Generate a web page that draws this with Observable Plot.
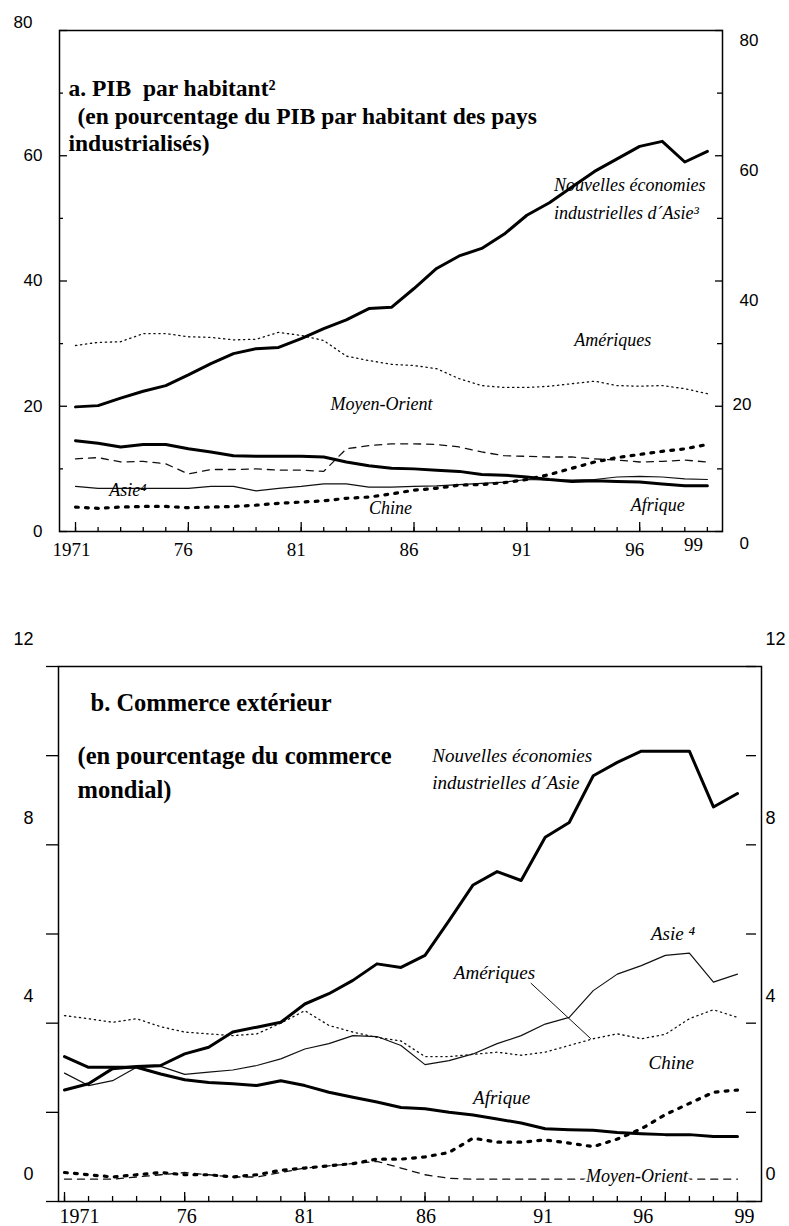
<!DOCTYPE html>
<html><head><meta charset="utf-8">
<script src="https://cdn.jsdelivr.net/npm/d3@7"></script>
<script src="https://cdn.jsdelivr.net/npm/@observablehq/plot@0.6"></script>
<style>
body{margin:0;background:#fff;width:789px;height:1226px;position:relative;overflow:hidden}
#a{position:absolute;left:0;top:0}
#b{position:absolute;left:0;top:620px}
svg text{white-space:pre}
</style></head><body><div id="a"></div><div id="b"></div>
<script>
// ---------- DATA ----------
const years = d3.range(1971, 2000);

// Panel a: GDP per capita (% of industrial countries' GDP per capita)
const nieA   = [19.9,20.1,21.3,22.4,23.3,25.0,26.8,28.4,29.2,29.4,30.8,32.4,33.8,35.6,35.8,38.8,42.0,44.0,45.2,47.5,50.5,52.5,55.0,57.5,59.5,61.5,62.3,59.0,60.7];
const ameA   = [29.7,30.2,30.3,31.6,31.6,31.1,31.0,30.6,30.7,31.8,31.3,30.5,28.0,27.3,26.7,26.5,26.0,24.4,23.3,23.0,23.0,23.2,23.6,24.0,23.3,23.2,23.3,22.8,22.0];
const meA    = [11.6,11.8,11.1,11.2,10.8,9.2,9.9,9.9,10.0,9.8,9.8,9.6,13.2,13.7,14.0,14.0,13.9,13.5,12.7,12.1,12.0,11.9,11.9,11.6,11.4,11.1,11.2,11.4,11.1];
const afrA   = [14.5,14.1,13.5,13.9,13.9,13.2,12.7,12.1,12.0,12.0,12.0,11.9,11.1,10.5,10.1,10.0,9.8,9.6,9.1,9.0,8.7,8.3,8.0,8.1,8.0,7.9,7.6,7.3,7.3];
const asiaA  = [7.2,6.9,6.9,6.9,6.9,6.9,7.2,7.2,6.5,6.9,7.2,7.6,7.6,7.1,7.1,7.2,7.3,7.5,7.7,7.9,8.3,8.2,8.2,8.3,8.7,8.8,8.7,8.4,8.3];
const chinaA = [3.9,3.7,3.9,4.0,4.0,3.8,3.9,4.0,4.2,4.5,4.7,4.9,5.3,5.5,6.0,6.6,6.9,7.4,7.5,7.8,8.3,9.1,10.1,11.1,11.8,12.3,12.8,13.2,13.9];

// Panel b: foreign trade (% of world trade)
const nieB   = [2.5,2.64,2.98,3.03,3.05,3.31,3.46,3.8,3.91,4.02,4.43,4.66,4.96,5.33,5.25,5.52,6.3,7.1,7.4,7.2,8.17,8.5,9.55,9.85,10.1,10.1,10.1,8.85,9.15];
const asiaB  = [2.88,2.6,2.71,3.01,3.03,2.85,2.9,2.95,3.05,3.2,3.42,3.54,3.72,3.7,3.5,3.07,3.16,3.31,3.54,3.72,3.98,4.13,4.73,5.1,5.29,5.52,5.57,4.92,5.1];
const ameB   = [4.17,4.1,4.02,4.1,3.92,3.8,3.76,3.72,3.76,4.0,4.28,3.95,3.8,3.68,3.6,3.25,3.25,3.3,3.35,3.28,3.35,3.5,3.65,3.76,3.65,3.75,4.1,4.3,4.13];
const afrB   = [3.25,3.01,3.01,3.01,2.86,2.73,2.67,2.64,2.6,2.71,2.6,2.45,2.34,2.23,2.11,2.08,2.0,1.94,1.85,1.76,1.63,1.61,1.6,1.55,1.52,1.5,1.5,1.46,1.46];
const chinaB = [0.65,0.6,0.55,0.6,0.65,0.6,0.6,0.55,0.6,0.7,0.75,0.8,0.85,0.95,0.95,1.0,1.1,1.42,1.33,1.33,1.38,1.31,1.23,1.4,1.63,1.95,2.2,2.45,2.5];
const meB    = [0.5,0.5,0.5,0.55,0.6,0.65,0.6,0.55,0.55,0.65,0.75,0.8,0.85,0.9,0.75,0.6,0.52,0.5,0.5,0.5,0.5,0.5,0.5,0.5,0.5,0.5,0.5,0.5,0.5];

// Tick values and labels
const xMajor = [1971,1976,1981,1986,1991,1996];
const xLabelYears = [1971,1976,1981,1986,1991,1996,1999];
const xLabelsA = ["1971","76","81","86","91","96","99"];
const xLabelsB = ["1971","76","81","86","91","96","99"];
const yLabelsA = [0,20,40,60,80];
const yMinorA = [10,30,50,70];
const yLabelsB = [0,4,8,12];
const yTicksB = [0,2,4,6,8,10,12];

// Annotations (data coordinates)
const labelsA = [
  {year:1992.2, value:55.3, text:"Nouvelles économies"},
  {year:1992.2, value:50.8, text:"industrielles d´Asie³"},
  {year:1993.1, value:30.5, text:"Amériques"},
  {year:1982.3, value:20.4, text:"Moyen-Orient"},
  {year:1972.5, value:6.6, text:"Asie⁴"},
  {year:1984.0, value:3.7, text:"Chine"},
  {year:1995.6, value:4.2, text:"Afrique"}
];
const labelsB = [
  {year:1986.3, value:10.0, text:"Nouvelles économies"},
  {year:1986.3, value:9.4, text:"industrielles d´Asie"},
  {year:1995.4, value:6.0, text:"Asie ⁴"},
  {year:1987.2, value:5.13, text:"Amériques"},
  {year:1995.3, value:3.1, text:"Chine"},
  {year:1988.0, value:2.33, text:"Afrique"}
];
const labelMeB = [{year:1992.7, value:0.56, text:"Moyen-Orient"}];
const leaderB = [{x1:1990.4, y1:4.9, x2:1992.9, y2:3.65}];

const titleA = ["a. PIB  par habitant²", "(en pourcentage du PIB par habitant des pays", "industrialisés)"];
const titleB = ["b. Commerce extérieur", "(en pourcentage du commerce", "mondial)"];

// ---------- STYLE / HELPERS ----------
const rows = vals => years.map((year, i) => ({year, value: vals[i]}));
const thick  = {stroke:"#000", strokeWidth:3, strokeLinejoin:"round"};
const thin   = {stroke:"#111", strokeWidth:1.2};
const dotted = {stroke:"#111", strokeWidth:1.3, strokeDasharray:"1.3,3.7"};
const dashed = {stroke:"#111", strokeWidth:1.3, strokeDasharray:"7,6"};
const sqdot  = {stroke:"#000", strokeWidth:3.2, strokeDasharray:"2.8,7.2"};
const line = (vals, st) => Plot.line(rows(vals), {x:"year", y:"value", ...st});
const SERIF = "Liberation Serif, Times New Roman, serif";
const SANS = "Liberation Sans, Arial, sans-serif";
const none = () => "";
const title = (txt, dx, dy, size) => Plot.text([txt], {frameAnchor:"top-left", dx, dy, textAnchor:"start", lineAnchor:"middle", fontWeight:"bold", fontSize:size, fontFamily:SERIF, fill:"#000"});
const series = (labs, size) => Plot.text(labs, {x:"year", y:"value", text:"text", textAnchor:"start", lineAnchor:"middle", fontStyle:"italic", fontSize:size, fontFamily:SERIF, fill:"#000"});
// one label per axis mark so each can carry its own small offset, as in the scan
const xLabelMarks = (vals, labs, offs, opts) => vals.map((v, i) =>
  Plot.axisX([v], {anchor:"bottom", tickSize:0, tickFormat:() => labs[i], label:null, dx:offs[i][0], dy:offs[i][1], ...opts}));
const yLabelMarks = (vals, offs, opts) => vals.map((v, i) =>
  Plot.axisY([v], {tickSize:0, label:null, dx:offs[i][0], dy:offs[i][1], ...opts}));

const offXA = [[-4,0],[-5,0],[-5,0],[-5,0],[-5,0],[-5,0],[-14,-5]];
const offXB = [[15,0],[2,0],[0,0],[1,0],[-2,0],[-22,0],[7,0]];
const offYLeftA  = [[0,0],[0,0],[0,0],[0,0],[-10,-8]];
const offYRightA = [[0,12],[-7,-2],[0,20],[0,15],[0,10]];

// ---------- PANEL A ----------
const chartA = Plot.plot({
  width:789, height:580,
  marginLeft:59, marginRight:67, marginTop:30, marginBottom:49,
  x:{domain:[1970.29, 1999.67]},
  y:{domain:[0, 80]},
  style:{background:"white", color:"black", overflow:"visible"},
  marks:[
    line(ameA, dotted),
    line(meA, dashed),
    line(asiaA, thin),
    line(chinaA, sqdot),
    line(afrA, thick),
    line(nieA, thick),
    Plot.frame({stroke:"#000", strokeWidth:1.5}),
    Plot.axisX(years, {anchor:"bottom", tickSize:4, dy:-4, tickFormat:none, label:null, strokeWidth:1.3}),
    Plot.axisX(xMajor, {anchor:"bottom", tickSize:9, dy:-9, tickFormat:none, label:null, strokeWidth:1.3}),
    ...xLabelMarks(xLabelYears, xLabelsA, offXA, {tickPadding:11, fontSize:19, fontFamily:SERIF}),
    Plot.axisY(yLabelsA, {anchor:"left", tickSize:8, dx:8, tickFormat:none, label:null, strokeWidth:1.3}),
    Plot.axisY(yMinorA, {anchor:"left", tickSize:4, dx:4, tickFormat:none, label:null, strokeWidth:1.3}),
    Plot.axisY(yLabelsA, {anchor:"right", tickSize:8, dx:-8, tickFormat:none, label:null, strokeWidth:1.3}),
    Plot.axisY(yMinorA, {anchor:"right", tickSize:6, dx:-6, tickFormat:none, label:null, strokeWidth:1.3}),
    ...yLabelMarks(yLabelsA, offYLeftA, {anchor:"left", tickPadding:17, fontSize:17, fontFamily:SANS}),
    ...yLabelMarks(yLabelsA, offYRightA, {anchor:"right", tickPadding:17, fontSize:17, fontFamily:SANS}),
    title(titleA[0], 9, 57.5, 23.5),
    title(titleA[1], 18, 85.5, 23.5),
    title(titleA[2], 9, 112.5, 23.5),
    series(labelsA, 18)
  ]
});
document.getElementById("a").append(chartA);

// ---------- PANEL B ----------
const chartB = Plot.plot({
  width:789, height:606,
  marginLeft:58, marginRight:28, marginTop:46, marginBottom:25,
  x:{domain:[1970.75, 2000.0]},
  y:{domain:[0, 12]},
  style:{background:"white", color:"black", overflow:"visible"},
  marks:[
    line(meB, dashed),
    line(ameB, dotted),
    line(chinaB, sqdot),
    line(asiaB, thin),
    line(afrB, thick),
    line(nieB, thick),
    Plot.link(leaderB, {x1:"x1", y1:"y1", x2:"x2", y2:"y2", stroke:"#111", strokeWidth:1}),
    Plot.frame({stroke:"#000", strokeWidth:1.5}),
    Plot.axisX(years, {anchor:"bottom", tickSize:5, dy:-5, tickFormat:none, label:null, strokeWidth:1.3}),
    Plot.axisX([...xMajor, 1999], {anchor:"bottom", tickSize:9, dy:-9, tickFormat:none, label:null, strokeWidth:1.3}),
    ...xLabelMarks(xLabelYears, xLabelsB, offXB, {tickPadding:7, fontSize:20, fontFamily:SERIF}),
    Plot.axisY(yTicksB, {anchor:"left", tickSize:12, tickFormat:none, label:null, strokeWidth:1.3}),
    Plot.axisY(yTicksB, {anchor:"right", tickSize:10, dx:-16, tickFormat:none, label:null, strokeWidth:1.3}),
    Plot.axisY(yLabelsB, {anchor:"left", tickSize:0, tickPadding:25, dy:-27, label:null, fontSize:18, fontFamily:SANS}),
    Plot.axisY(yLabelsB, {anchor:"right", tickSize:0, tickPadding:4, dy:-27, label:null, fontSize:18, fontFamily:SANS}),
    title(titleB[0], 32, 36.2, 24.5),
    title(titleB[1], 19, 89.2, 24.5),
    title(titleB[2], 19, 123.2, 24.5),
    series(labelsB, 19),
    Plot.text(labelMeB, {x:"year", y:"value", text:"text", textAnchor:"start", lineAnchor:"middle", fontStyle:"italic", fontSize:18, fontFamily:SERIF, fill:"#000", stroke:"white", strokeWidth:5, paintOrder:"stroke"})
  ]
});
document.getElementById("b").append(chartB);
</script></body></html>
